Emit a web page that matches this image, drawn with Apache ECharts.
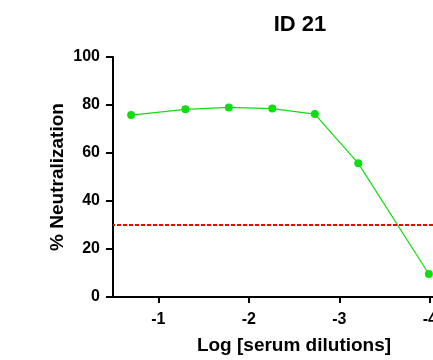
<!DOCTYPE html>
<html>
<head>
<meta charset="utf-8">
<script src="https://cdn.jsdelivr.net/npm/echarts@6/dist/echarts.min.js"></script>
<style>
  html, body { margin: 0; padding: 0; background: #fff; }
  #chart { width: 433px; height: 360px; }
</style>
</head>
<body>
<div id="chart"></div>
<script>
// log10 serum dilution vs % neutralization
const logDilutions = [-0.70, -1.30, -1.78, -2.26, -2.73, -3.21, -3.99];
const neutralization = [75.8, 78.2, 79.0, 78.5, 76.2, 55.7, 9.6];
const xTicks = [-1, -2, -3, -4];
const cutoff = 30;

const font = 'Arial, "Liberation Sans", sans-serif';
const chart = echarts.init(document.getElementById('chart'));

chart.setOption({
  animation: false,
  title: {
    text: 'ID 21',
    left: 295,
    top: 9,
    textAlign: 'center',
    textStyle: { fontFamily: font, fontWeight: 'bold', fontSize: 22, color: '#000' }
  },
  // plot runs past the right edge of the canvas (axis ends at -4.5)
  grid: { left: 113, right: -42, top: 57, bottom: 63, outerBoundsMode: 'none', containLabel: false },
  xAxis: {
    type: 'value',
    inverse: true,
    min: -4.5,
    max: -0.5,
    name: 'Log [serum dilutions]',
    nameLocation: 'middle',
    nameGap: 39,
    nameMoveOverlap: false,
    nameTextStyle: { fontFamily: font, fontWeight: 'bold', fontSize: 19, color: '#000' },
    axisLine: { lineStyle: { color: '#000', width: 2 } },
    axisTick: { show: true, length: 6, lineStyle: { color: '#000', width: 2 }, customValues: xTicks },
    axisLabel: {
      customValues: xTicks,
      margin: 15,
      fontFamily: font, fontWeight: 'bold', fontSize: 16, color: '#000'
    },
    splitLine: { show: false }
  },
  yAxis: {
    type: 'value',
    min: 0,
    max: 100,
    interval: 20,
    name: '% Neutralization',
    nameLocation: 'middle',
    nameGap: 46,
    nameMoveOverlap: false,
    nameTextStyle: { fontFamily: font, fontWeight: 'bold', fontSize: 19, color: '#000' },
    axisLine: { show: true, lineStyle: { color: '#000', width: 2 } },
    axisTick: { show: true, length: 7, lineStyle: { color: '#000', width: 2 } },
    axisLabel: { margin: 13, fontFamily: font, fontWeight: 'bold', fontSize: 16, color: '#000' },
    splitLine: { show: false }
  },
  series: [
    {
      type: 'line',
      data: logDilutions.map((x, i) => [x, neutralization[i]]),
      symbol: 'circle',
      symbolSize: 8,
      lineStyle: { color: '#11dd11', width: 1.2 },
      itemStyle: { color: '#11dd11' },
      markLine: {
        silent: true,
        symbol: 'none',
        label: { show: false },
        lineStyle: { color: '#ff0000', type: [4, 2], width: 2 },
        data: [{ yAxis: cutoff }]
      }
    }
  ]
});
</script>
</body>
</html>
